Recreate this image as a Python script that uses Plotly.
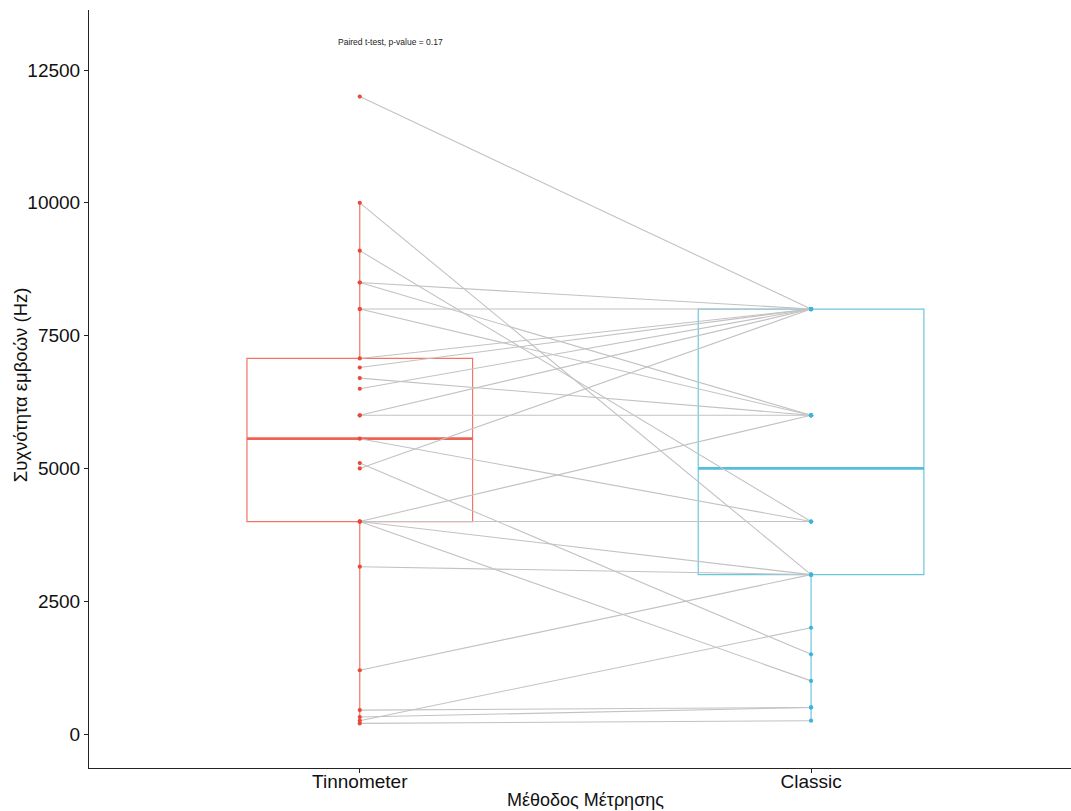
import plotly.graph_objects as go

# Paired measurements: tinnitus pitch (Hz) per subject, two methods
groups = ["Tinnometer", "Classic"]
tinnometer = [12000, 10000, 9100, 8500, 8500, 8000, 8000, 7070, 6900, 6700,
              6500, 6000, 6000, 5560, 5100, 5000, 4000, 4000, 4000, 4000,
              3150, 1200, 450, 320, 250, 200]
classic = [8000, 3000, 4000, 8000, 6000, 8000, 6000, 8000, 8000, 6000,
           8000, 6000, 8000, 4000, 1500, 8000, 6000, 4000, 3000, 1000,
           3000, 3000, 500, 500, 2000, 250]

# Box summary per method
box_q1 = [4000, 3000]
box_median = [5560, 5000]
box_q3 = [7070, 8000]
box_low = [200, 250]
box_high = [10000, 8000]

y_ticks = [0, 2500, 5000, 7500, 10000, 12500]
y_ticktext = [str(v) for v in y_ticks]
test_label = "Paired t-test, p-value = 0.17"

box_colors = ["#F07565", "#6CC6DE"]
median_colors = ["#EE6454", "#55BEDC"]
point_colors = ["#E8493B", "#3CB5DA"]
FONT = "Liberation Sans, Arial, sans-serif"

fig = go.Figure()

# Boxes (no caps, transparent fill)
for i, name in enumerate(groups):
    fig.add_trace(go.Box(
        x=[i], q1=[box_q1[i]], median=[box_median[i]], q3=[box_q3[i]],
        lowerfence=[box_low[i]], upperfence=[box_high[i]],
        width=0.5, whiskerwidth=0, boxpoints=False,
        fillcolor="rgba(0,0,0,0)",
        line=dict(color=box_colors[i], width=1.2),
        hoverinfo="skip", showlegend=False,
    ))
    # thicker median bar
    fig.add_trace(go.Scatter(
        x=[i - 0.25, i + 0.25], y=[box_median[i], box_median[i]],
        mode="lines", line=dict(color=median_colors[i], width=2.6),
        hoverinfo="skip", showlegend=False,
    ))

# Paired connecting lines
lx, ly = [], []
for t, c in zip(tinnometer, classic):
    lx += [0, 1, None]
    ly += [t, c, None]
fig.add_trace(go.Scatter(
    x=lx, y=ly, mode="lines",
    line=dict(color="#C2C2C2", width=1.1),
    hoverinfo="skip", showlegend=False,
))

# Points
for i, vals in enumerate([tinnometer, classic]):
    fig.add_trace(go.Scatter(
        x=[i] * len(vals), y=vals, mode="markers",
        marker=dict(color=point_colors[i], size=4.2),
        name=groups[i], showlegend=False,
    ))

fig.add_annotation(
    x=0.069, y=13027, xref="x", yref="y", text=test_label,
    showarrow=False, font=dict(family=FONT, size=8.5, color="#222222"),
)

# Axis titles
fig.add_annotation(
    x=(585 - 89) / 982, y=(768 - 800) / 758, xref="paper", yref="paper",
    text="Μέθοδος Μέτρησης", showarrow=False,
    xanchor="center", yanchor="middle",
    font=dict(family=FONT, size=18, color="#111111"),
)
fig.add_annotation(
    x=(20 - 89) / 982, y=0.505, xref="paper", yref="paper",
    text="Συχνότητα εμβοών (Hz)", showarrow=False, textangle=-90,
    xanchor="center", yanchor="middle",
    font=dict(family=FONT, size=18.5, color="#111111"),
)

fig.update_layout(
    width=1071, height=811,
    margin=dict(l=89, r=0, t=10, b=43),
    plot_bgcolor="white", paper_bgcolor="white",
    font=dict(family=FONT, color="black"),
    boxmode="overlay",
    xaxis=dict(
        range=[-0.6, 1.576], tickvals=[0, 1], ticktext=groups,
        showline=True, linecolor="#222222", linewidth=1,
        ticks="outside", ticklen=4, tickcolor="#222222",
        ticklabelstandoff=-8,
        tickfont=dict(family=FONT, size=19, color="#111111"),
        showgrid=False, zeroline=False,
    ),
    yaxis=dict(
        range=[-640, 13630], tickvals=y_ticks, ticktext=y_ticktext,
        showline=True, linecolor="#222222", linewidth=1,
        ticks="outside", ticklen=4, tickcolor="#222222",
        tickfont=dict(family=FONT, size=19, color="#111111"),
        showgrid=False, zeroline=False,
    ),
)

fig.write_html("out.html")
